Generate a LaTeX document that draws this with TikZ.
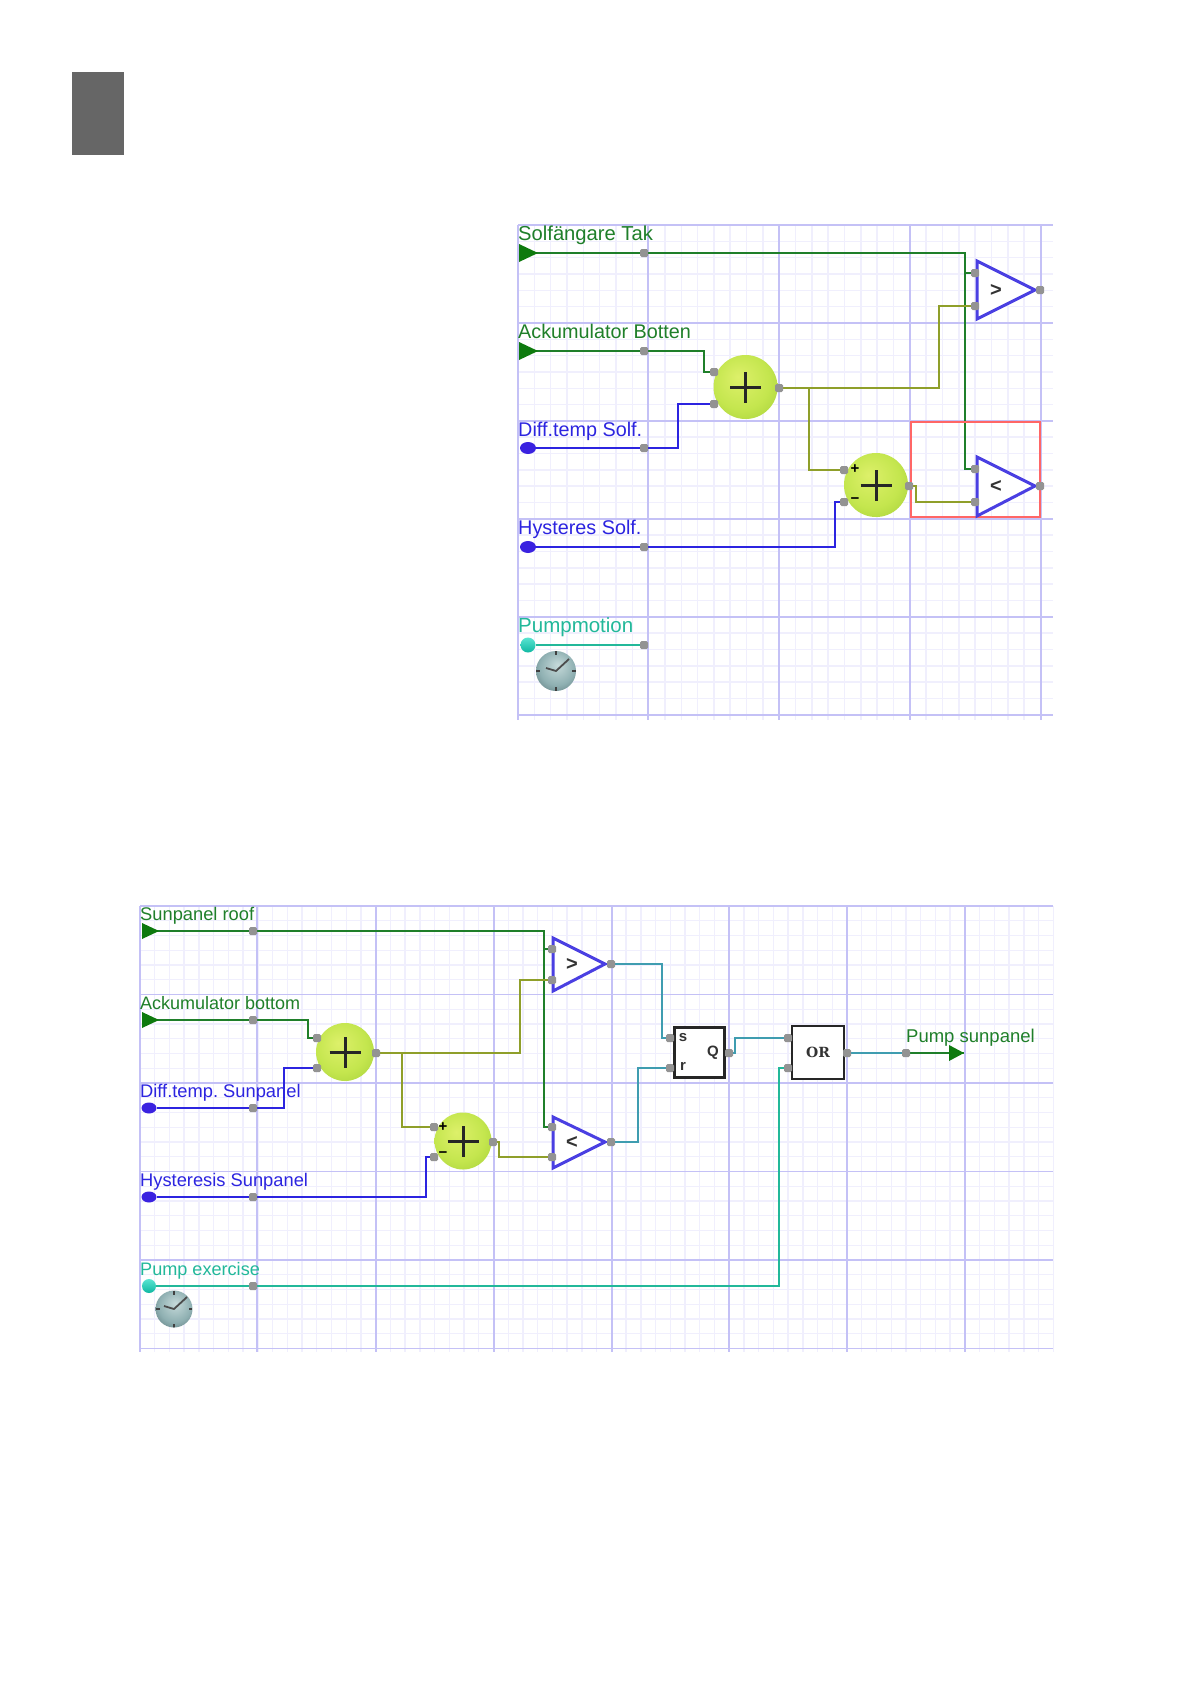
\documentclass[tikz,border=0pt]{standalone}
\usepackage{fontspec}
\setmainfont{Liberation Sans}
\newfontfamily\orfont{DejaVu Serif}
\usetikzlibrary{shapes.geometric}
\frenchspacing
\pgfdeclarelayer{gridlayer}
\pgfdeclarelayer{wirelayer}
\pgfsetlayers{gridlayer,wirelayer,main}
\definecolor{gmin}{HTML}{F0EFFD}
\definecolor{gmaj}{HTML}{C4C1F6}
\definecolor{wgreen}{HTML}{1F7F2A}
\definecolor{wblue}{HTML}{2C24E0}
\definecolor{wteal}{HTML}{22B89A}
\definecolor{wolive}{HTML}{8F9F2A}
\definecolor{wlogic}{HTML}{3F9DB0}
\definecolor{agreen}{HTML}{0E7A0E}
\definecolor{ablue}{HTML}{3A22E0}
\definecolor{acyan}{HTML}{12D8BE}
\definecolor{tribl}{HTML}{4A3FE2}
\definecolor{sb1}{HTML}{DDF06A}
\definecolor{sb2}{HTML}{C4E64E}
\definecolor{sb3}{HTML}{8FBF2A}
\definecolor{cl1}{HTML}{C6DADA}
\definecolor{cl2}{HTML}{8FB0B2}
\definecolor{cl3}{HTML}{2F4A4E}
\pgfdeclareradialshading{sumball}{\pgfpoint{-6bp}{8bp}}{color(0bp)=(sb1);color(22bp)=(sb2);color(50bp)=(sb3)}
\pgfdeclareradialshading{clockball}{\pgfpoint{2bp}{8bp}}{color(0bp)=(cl1);color(22bp)=(cl2);color(50bp)=(cl3)}
\tikzset{
  x=1pt,y=-1pt,
  port/.style={rectangle,fill=gray!85,inner sep=0pt,minimum size=8pt,rounded corners=1.5pt},
  wire/.style={line width=1.8pt,line join=miter},
  lab/.style={anchor=base west,inner sep=0pt,font=\fontsize{#1}{#1}\selectfont},
  sumnode/.style={circle,inner sep=0pt,minimum size=#1,shading=sumball,
    path picture={\draw[line width=3pt,black!85]
      ([xshift=-15.5pt]path picture bounding box.center) -- ([xshift=15.5pt]path picture bounding box.center)
      ([yshift=-15.5pt]path picture bounding box.center) -- ([yshift=15.5pt]path picture bounding box.center);}},
  clocknode/.style={circle,inner sep=0pt,minimum size=#1,shading=clockball,
    path picture={\draw[line width=1.8pt,black!70,line join=round]
      ([shift={(-10pt,3pt)}]path picture bounding box.center) -- (path picture bounding box.center) -- ([shift={(13pt,12pt)}]path picture bounding box.center);
      \draw[line width=2pt,black!75]
      (path picture bounding box.north) -- ++(0pt,-4pt)
      (path picture bounding box.south) -- ++(0pt,4pt)
      (path picture bounding box.east) -- ++(-4pt,0pt)
      (path picture bounding box.west) -- ++(4pt,0pt);}},
  blobnode/.style={ellipse,fill=ablue,inner sep=0pt,minimum width=16pt,minimum height=12pt},
  cyannode/.style={circle,shading=axis,top color=acyan!70!white,bottom color=acyan!85!black,inner sep=0pt,minimum size=15pt},
  trifig/.style={draw=tribl,fill=white,line width=3pt,line join=miter},
  arrowfig/.style={fill=agreen},
  logicbox/.style={rectangle,draw=black!85,fill=white,line width=2.8pt,inner sep=0pt,minimum width=50pt,minimum height=50pt},
  cmp/.style={inner sep=0pt,text=black!80,font=\fontsize{20}{20}\selectfont\bfseries},
  sign/.style={inner sep=0pt,text=black,font=\fontsize{15}{15}\selectfont\bfseries},
  pin/.style={inner sep=0pt,text=black!80,font=\fontsize{15}{15}\selectfont\bfseries},
  redbox/.style={draw=red!60,line width=2.6pt},
}
\begin{document}
\begin{tikzpicture}
\useasboundingbox (0,0) rectangle (1191,1684);
\node[rectangle,fill=black!60,inner sep=0pt,minimum width=52pt,minimum height=83pt] (greybox) at (98,113.5) {};

% ---------- grids ----------
\begin{pgfonlayer}{gridlayer}
\fill[white] (0,0) rectangle (1191,1684);
\foreach \i in {0,...,32} {\pgfmathsetmacro\xx{518+16.33*\i}\draw[gmin,line width=1.6pt] (\xx,225) -- (\xx,720);}
\foreach \j in {0,...,30} {\pgfmathsetmacro\yy{225+16.33*\j}\draw[gmin,line width=1.6pt] (518,\yy) -- (1053,\yy);}
\foreach \xx in {518,779,910,1041} \draw[gmaj,line width=1.4pt] (\xx,225) -- (\xx,720);
\draw[gmaj,line width=2.6pt] (648,225) -- (648,720);
\foreach \yy in {225,323,421,519,617,715} \draw[gmaj,line width=1.4pt] (518,\yy) -- (1053,\yy);
\foreach \i in {0,...,62} {\pgfmathsetmacro\xx{140+14.73*\i}\draw[gmin,line width=1.4pt] (\xx,906) -- (\xx,1352);}
\foreach \j in {0,...,30} {\pgfmathsetmacro\yy{906+14.75*\j}\draw[gmin,line width=1.4pt] (140,\yy) -- (1053,\yy);}
\foreach \xx in {140,376,494,612,729,847,965} \draw[gmaj,line width=1.3pt] (\xx,906) -- (\xx,1352);
\draw[gmaj,line width=2.2pt] (257,906) -- (257,1352);
\foreach \yy in {906,994.5,1083,1171.5,1260,1348.5} \draw[gmaj,line width=1.3pt] (140,\yy) -- (1053,\yy);
\end{pgfonlayer}

% ---------- upper diagram ----------
\node[rectangle,redbox,inner sep=0pt,minimum width=129pt,minimum height=95pt] (tred) at (975.5,469.5) {};

\coordinate (ta1) at (519,253);
\coordinate (ta2) at (519,351);
\fill[arrowfig] (ta1) -- +(0,-9) -- +(19,0) -- +(0,9) -- cycle;
\fill[arrowfig] (ta2) -- +(0,-9) -- +(19,0) -- +(0,9) -- cycle;
\node[blobnode] (tb1in) at (528,448) {};
\node[blobnode] (tb2in) at (528,547) {};
\node[cyannode] (tc1in) at (528,645) {};
\node[clocknode=40pt] (tclock) at (556,671) {};

\node[lab=20.2,text=wgreen] (tl1) at (518,240) {Solfängare Tak};
\node[lab=19.8,text=wgreen] (tl2) at (518,338) {Ackumulator Botten};
\node[lab=19.8,text=wblue] (tl3) at (518,436) {Diff.temp Solf.};
\node[lab=19.8,text=wblue] (tl4) at (518,534) {Hysteres Solf.};
\node[lab=20.5,text=wteal] (tl5) at (518,632) {Pumpmotion};

\node[sumnode=64pt] (ts1) at (745.5,387) {};
\node[sumnode=64pt] (ts2) at (876,485) {};
\node[sign] (tplus) at (855,469) {+};
\node[sign] (tminus) at (855,501) {−};

\coordinate (tt1a) at (977,261); \coordinate (tt1b) at (977,319); \coordinate (tt1c) at (1035,290);
\coordinate (tt2a) at (977,457); \coordinate (tt2b) at (977,516); \coordinate (tt2c) at (1035,486);
\draw[trifig] (tt1a) -- (tt1c) -- (tt1b) -- cycle;
\draw[trifig] (tt2a) -- (tt2c) -- (tt2b) -- cycle;
\node[cmp] (tgt) at (996,290) {>};
\node[cmp] (tlt) at (996,486) {<};

\node[port] (tp1) at (644,253) {};
\node[port] (tp2) at (644,351) {};
\node[port] (tp3) at (644,448) {};
\node[port] (tp4) at (644,547) {};
\node[port] (tp5) at (644,645) {};
\node[port] (ts1a) at (714,372) {};
\node[port] (ts1b) at (714,404) {};
\node[port] (ts1o) at (779,388) {};
\node[port] (ts2a) at (844,470) {};
\node[port] (ts2b) at (844,502) {};
\node[port] (ts2o) at (909,486) {};
\node[port] (tc1a) at (975,273) {};
\node[port] (tc1b) at (975,306) {};
\node[port] (tc1o) at (1040,290) {};
\node[port] (tc2a) at (975,469) {};
\node[port] (tc2b) at (975,502) {};
\node[port] (tc2o) at (1040,486) {};

\coordinate (tj1) at (965,253);
\coordinate (tj2) at (704,360);
\coordinate (tj3) at (678,425);
\coordinate (tj4) at (939,350);
\coordinate (tj5) at (809,388);
\coordinate (tj6) at (916,495);
\coordinate (tj7) at (835,525);

\begin{pgfonlayer}{wirelayer}
\draw[wire,wgreen] (ta1) -- (tp1) -- (tj1) |- (tc2a);
\draw[wire,wgreen] (tj1) |- (tc1a);
\draw[wire,wgreen] (ta2) -- (tp2) -| (tj2) |- (ts1a);
\draw[wire,wblue] (tb1in) -- (tp3) -| (tj3) |- (ts1b);
\draw[wire,wblue] (tb2in) -- (tp4) -| (tj7) |- (ts2b);
\draw[wire,wteal] (tc1in) -- (tp5);
\draw[wire,wolive] (ts1o) -| (tj4) |- (tc1b);
\draw[wire,wolive] (tj5) |- (ts2a);
\draw[wire,wolive] (ts2o) -| (tj6) |- (tc2b);
\end{pgfonlayer}

% ---------- lower diagram ----------
\coordinate (ba1) at (142,931);
\coordinate (ba2) at (142,1020);
\fill[arrowfig] (ba1) -- +(0,-8) -- +(17,0) -- +(0,8) -- cycle;
\fill[arrowfig] (ba2) -- +(0,-8) -- +(17,0) -- +(0,8) -- cycle;
\node[blobnode,minimum width=15pt,minimum height=11pt] (bb1in) at (149,1108) {};
\node[blobnode,minimum width=15pt,minimum height=11pt] (bb2in) at (149,1197) {};
\node[cyannode,minimum size=14pt] (bc1in) at (149,1286) {};
\node[clocknode=37pt] (bclock) at (174,1309) {};

\node[lab=18.3,text=wgreen] (bl1) at (140,920) {Sunpanel roof};
\node[lab=18,text=wgreen] (bl2) at (140,1009) {Ackumulator bottom};
\node[lab=18.3,text=wblue] (bl3) at (140,1097) {Diff.temp. Sunpanel};
\node[lab=18.3,text=wblue] (bl4) at (140,1186) {Hysteresis Sunpanel};
\node[lab=18.1,text=wteal] (bl5) at (140,1275) {Pump exercise};
\node[lab=18.5,text=wgreen] (bl6) at (906,1042) {Pump sunpanel};

\node[sumnode=58pt] (bs1) at (345,1052) {};
\node[sumnode=57pt] (bs2) at (463,1141) {};
\node[sign] (bplus) at (443,1127) {+};
\node[sign] (bminus) at (443,1155) {−};

\coordinate (bt1a) at (553,938); \coordinate (bt1b) at (553,991); \coordinate (bt1c) at (605,964);
\coordinate (bt2a) at (553,1117); \coordinate (bt2b) at (553,1168); \coordinate (bt2c) at (605,1142);
\draw[trifig] (bt1a) -- (bt1c) -- (bt1b) -- cycle;
\draw[trifig] (bt2a) -- (bt2c) -- (bt2b) -- cycle;
\node[cmp] (bgt) at (572,964) {>};
\node[cmp] (blt) at (572,1142) {<};

\node[logicbox] (bsr) at (699.5,1052.5) {};
\node[pin] (bpins) at (683,1038) {s};
\node[pin] (bpinr) at (683,1066) {r};
\node[pin] (bpinq) at (713,1053) {Q};
\node[logicbox,minimum width=52pt,minimum height=53pt] (bor) at (818,1052.5) {};
\node[inner sep=0pt,text=black!80,font=\orfont\fontsize{14}{14}\selectfont\bfseries] (bortext) at (818,1052) {OR};

\node[port] (bp1) at (253,931) {};
\node[port] (bp2) at (253,1020) {};
\node[port] (bp3) at (253,1108) {};
\node[port] (bp4) at (253,1197) {};
\node[port] (bp5) at (253,1286) {};
\node[port] (bs1a) at (317,1038) {};
\node[port] (bs1b) at (317,1068) {};
\node[port] (bs1o) at (376,1053) {};
\node[port] (bs2a) at (434,1127) {};
\node[port] (bs2b) at (434,1157) {};
\node[port] (bs2o) at (493,1142) {};
\node[port] (bc1a) at (552,949) {};
\node[port] (bc1b) at (552,980) {};
\node[port] (bc1o) at (611,964) {};
\node[port] (bc2a) at (552,1127) {};
\node[port] (bc2b) at (552,1157) {};
\node[port] (bc2o) at (611,1142) {};
\node[port] (bsrs) at (670,1038) {};
\node[port] (bsrr) at (670,1068) {};
\node[port] (bsrq) at (729,1053) {};
\node[port] (bora) at (788,1038) {};
\node[port] (borb) at (788,1068) {};
\node[port] (boro) at (847,1053) {};
\node[port] (bout) at (906,1053) {};

\coordinate (bend) at (964,1053);
\fill[arrowfig] (bend) -- (949,1045) -- (949,1061) -- cycle;

\coordinate (bj1) at (544,931);
\coordinate (bj2) at (308,1029);
\coordinate (bj3) at (284,1088);
\coordinate (bj4) at (520,1010);
\coordinate (bj5) at (402,1053);
\coordinate (bj6) at (499,1150);
\coordinate (bj7) at (426,1177);
\coordinate (bj8) at (662,1000);
\coordinate (bj9) at (638,1105);
\coordinate (bj10) at (735,1045);
\coordinate (bj11) at (779,1180);

\begin{pgfonlayer}{wirelayer}
\draw[wire,wgreen] (ba1) -- (bp1) -- (bj1) |- (bc2a);
\draw[wire,wgreen] (bj1) |- (bc1a);
\draw[wire,wgreen] (ba2) -- (bp2) -| (bj2) |- (bs1a);
\draw[wire,wblue] (bb1in) -- (bp3) -| (bj3) |- (bs1b);
\draw[wire,wblue] (bb2in) -- (bp4) -| (bj7) |- (bs2b);
\draw[wire,wteal] (bc1in) -- (bp5) -| (bj11) |- (borb);
\draw[wire,wolive] (bs1o) -| (bj4) |- (bc1b);
\draw[wire,wolive] (bj5) |- (bs2a);
\draw[wire,wolive] (bs2o) -| (bj6) |- (bc2b);
\draw[wire,wlogic] (bc1o) -| (bj8) |- (bsrs);
\draw[wire,wlogic] (bc2o) -| (bj9) |- (bsrr);
\draw[wire,wlogic] (bsrq) -| (bj10) |- (bora);
\draw[wire,wlogic] (boro) -- (bout);
\draw[wire,wgreen] (bout) -- (bend);
\end{pgfonlayer}
\end{tikzpicture}
\end{document}
